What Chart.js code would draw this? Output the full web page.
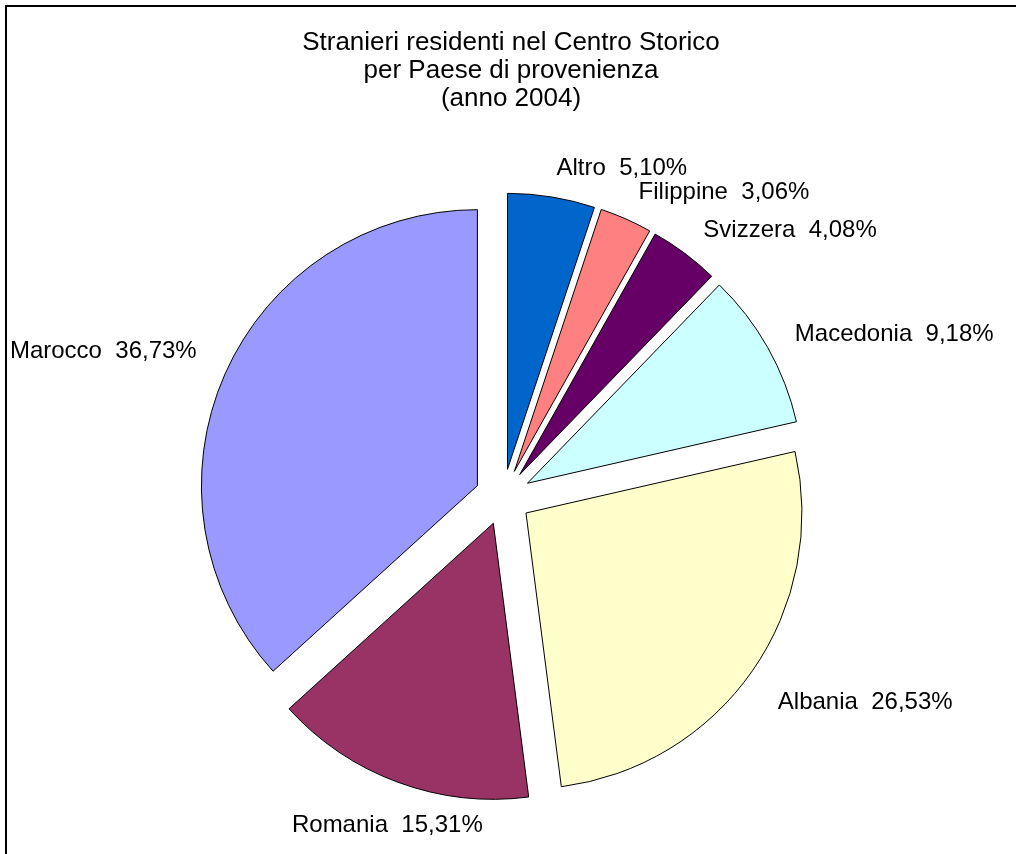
<!DOCTYPE html>
<html lang="it">
<head>
<meta charset="utf-8">
<title>Stranieri residenti nel Centro Storico</title>
<script src="https://cdn.jsdelivr.net/npm/chart.js@4"></script>
<style>
  html, body { margin: 0; padding: 0; background: #ffffff; }
  canvas { display: block; }
</style>
</head>
<body>
<canvas id="torta" width="1016" height="854"></canvas>
<script>
// Paesi di provenienza, in senso orario a partire da ore 12
const categories = ['Altro', 'Filippine', 'Svizzera', 'Macedonia', 'Albania', 'Romania', 'Marocco'];
// Quota percentuale di residenti stranieri per paese
const shares = [5.10, 3.06, 4.08, 9.18, 26.53, 15.31, 36.73];
// Colori delle fette
const sliceColors = ['#0066CC', '#FF8080', '#660066', '#CCFFFF', '#FFFFCC', '#993366', '#9999FF'];
// Titolo su tre righe
const titleLines = ['Stranieri residenti nel Centro Storico', 'per Paese di provenienza', '(anno 2004)'];

const FONT = '"Liberation Sans", Arial, sans-serif';
const EXPLODE = 28;      // distacco di ogni fetta dal centro
const LABEL_GAP = 31;    // distanza delle etichette dal bordo della fetta

const fmtPct = v => v.toFixed(2).replace('.', ',') + '%';

// Sfondo bianco e cornice esterna
const frame = {
  id: 'frame',
  beforeDraw(chart) {
    const ctx = chart.ctx;
    ctx.save();
    ctx.fillStyle = '#ffffff';
    ctx.fillRect(0, 0, chart.width, chart.height);
    ctx.strokeStyle = '#000000';
    ctx.lineWidth = 2;
    ctx.strokeRect(6, 6, chart.width + 20, chart.height + 20);
    ctx.restore();
  }
};

// Torta esplosa: ogni fetta viene spostata lungo la propria bisettrice
const explode = {
  id: 'explode',
  afterDatasetUpdate(chart, args) {
    args.meta.data.forEach(arc => {
      const mid = (arc.startAngle + arc.endAngle) / 2;
      arc.x += Math.cos(mid) * EXPLODE;
      arc.y += Math.sin(mid) * EXPLODE;
    });
  }
};

// Titolo
const titlePlugin = {
  id: 'titolo',
  afterDraw(chart) {
    const ctx = chart.ctx;
    ctx.save();
    ctx.fillStyle = '#000000';
    ctx.font = '26px ' + FONT;
    ctx.textAlign = 'center';
    ctx.textBaseline = 'alphabetic';
    titleLines.forEach((line, i) => ctx.fillText(line, 511, 50 + i * 28));
    ctx.restore();
  }
};

// Etichette esterne "Paese  xx,xx%"
const sliceLabels = {
  id: 'etichette',
  afterDatasetsDraw(chart) {
    const ctx = chart.ctx;
    const meta = chart.getDatasetMeta(0);
    const values = chart.data.datasets[0].data;
    ctx.save();
    ctx.fillStyle = '#000000';
    ctx.font = '24px ' + FONT;
    ctx.textBaseline = 'alphabetic';
    meta.data.forEach((arc, i) => {
      const mid = (arc.startAngle + arc.endAngle) / 2;
      const ux = Math.cos(mid), uy = Math.sin(mid);
      const d = arc.outerRadius + LABEL_GAP;
      const ax = arc.x + ux * d;
      const ay = arc.y + uy * d;
      const text = chart.data.labels[i] + '  ' + fmtPct(values[i]);
      let align, midY;
      if (uy > 0 && Math.abs(ux) < 0.5) {
        align = 'center'; midY = ay + 12;          // sotto la torta: centrata e appesa
      } else if (uy > 0) {
        align = ux > 0 ? 'left' : 'right'; midY = ay + 12;
      } else {
        align = ux > 0 ? 'left' : 'right'; midY = ux > 0 ? ay : ay - 12;
      }
      ctx.textAlign = align;
      ctx.fillText(text, ax, midY + 8.5);
    });
    ctx.restore();
  }
};

new Chart(document.getElementById('torta'), {
  type: 'pie',
  data: {
    labels: categories,
    datasets: [{
      data: shares,
      backgroundColor: sliceColors,
      borderColor: '#000000',
      borderWidth: 1,
      radius: 276,
      offset: 0
    }]
  },
  options: {
    responsive: false,
    animation: false,
    events: [],
    layout: { padding: { left: 0, right: 10, top: 140, bottom: 0 } },
    plugins: {
      legend: { display: false },
      tooltip: { enabled: false },
      title: { display: false }
    }
  },
  plugins: [frame, explode, titlePlugin, sliceLabels]
});
</script>
</body>
</html>
